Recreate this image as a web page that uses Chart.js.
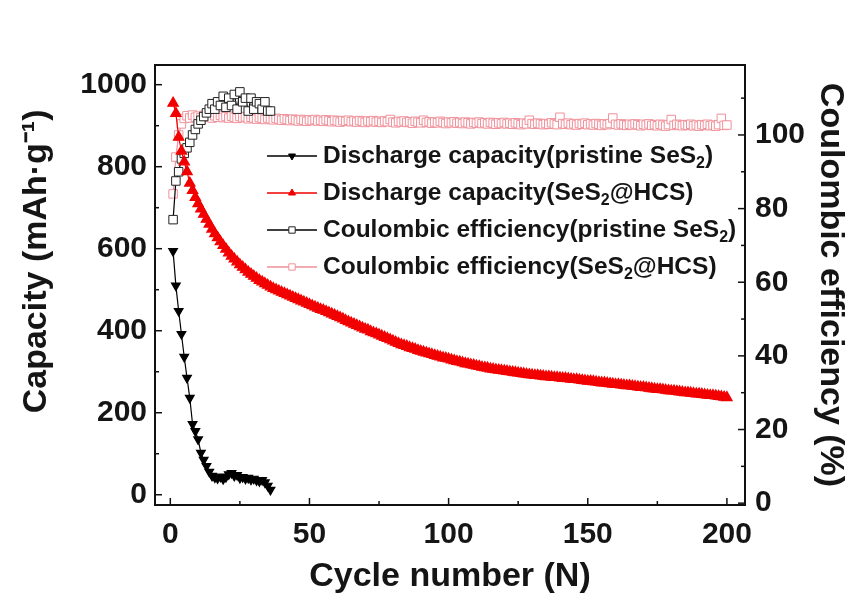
<!DOCTYPE html>
<html>
<head>
<meta charset="utf-8">
<script src="https://cdn.jsdelivr.net/npm/chart.js@4.4.1/dist/chart.umd.min.js"></script>
<style>
  html, body { margin: 0; padding: 0; background: #fff; }
  #wrap { width: 858px; height: 600px; position: relative; }
</style>
</head>
<body>
<div id="wrap"><canvas id="chart"></canvas></div>
<script>
// cycles 1..36 for the pristine cell, 1..200 for SeS2@HCS
const pristineCycles = [1,2,3,4,5,6,7,8,9,10,11,12,13,14,15,16,17,18,19,20,21,22,23,24,25,26,27,28,29,30,31,32,33,34,35,36];
const pristineCapacity = [594,510,448,392,336,285,236,172,155,135,102,85,70,56,46,42,40,44,38,43,50,53,46,48,41,43,39,41,37,39,35,33,36,30,22,12];
const pristineCE = [77,87.5,90,93.5,95,96.5,98,100,101.5,103,104,105,106,107,108.5,107,109,108,110.5,107.5,110,108,111,107,111.7,109,110,106.5,110,107,109,108.5,107,109,106.5,106.5];

const hcsCycles = Array.from({length: 200}, (_, i) => i + 1);
const hcsCapacity = [
  955,930,872,838,812,788,760,742,725,710,
  697,684,672,660,648,637,627,617,608,599,
  590,582,575,568,561,555,549,543,538,533,
  528,523,519,515,511,507,503,500,497,494,
  491,488,485,482,479,476,473,470,467,464,
  461,458,455,452,450,447,444,441,438,435,
  432,429,425,422,419,416,413,410,407,404,
  402,398,395,393,390,387,384,381,378,375,
  372,369,366,364,362,359,357,355,352,350,
  348,346,344,342,340,338,336,334,333,331,
  329,327,325,324,322,320,319,317,316,314,
  313,311,310,309,307,306,305,304,303,302,
  301,300,299,298,297,296,295,294,293,292,
  291,291,290,289,288,288,287,286,286,285,
  284,284,283,282,281,281,280,279,278,277,
  277,276,275,274,273,273,272,271,270,269,
  269,268,267,266,266,265,264,263,262,262,
  261,260,259,258,257,257,256,255,254,253,
  253,252,251,250,249,249,248,247,246,246,
  245,244,243,242,242,241,240,239,238,237
];
const hcsCE = [
  84,94,100,103,104.5,105.2,104.6,105.4,104.8,105.1,
  104.7,105.3,104.9,105.0,104.6,105.2,104.8,105.3,104.7,105.0,
  104.6,105.1,104.8,104.5,105.0,104.7,104.9,104.4,104.8,104.6,
  104.3,104.7,104.5,104.2,104.6,104.4,104.1,104.5,104.3,104.0,
  104.4,104.2,103.9,104.3,104.1,103.8,104.2,104.0,103.7,104.1,
  103.9,104.2,103.8,104.0,103.7,104.1,103.9,103.6,104.0,103.8,
  103.5,103.9,103.7,104.0,103.6,103.8,103.5,103.9,103.7,103.4,
  103.8,103.6,103.9,103.5,103.7,103.4,103.8,103.6,104.2,103.5,
  103.3,103.7,103.5,103.8,103.4,103.6,103.2,103.7,103.5,103.3,
  104.0,103.4,103.6,103.2,103.5,103.3,103.7,103.4,103.1,103.5,
  103.3,103.6,103.2,103.4,103.1,103.5,103.3,103.0,103.4,103.2,
  103.5,103.1,103.3,103.0,103.4,103.2,102.9,103.3,103.1,103.4,
  103.0,103.2,102.9,103.3,103.1,102.8,103.2,103.0,104.0,103.1,
  102.9,103.2,103.0,102.8,103.1,102.9,103.3,103.0,102.8,104.8,
  103.1,102.9,103.2,102.8,103.0,102.7,103.1,102.9,103.2,102.8,
  103.0,102.7,103.1,102.9,102.6,103.0,102.8,103.1,104.6,102.9,
  102.7,103.0,102.8,102.6,102.9,102.7,103.0,102.8,102.5,102.9,
  102.7,103.0,102.6,102.8,102.5,102.9,102.7,102.4,102.8,104.2,
  102.6,102.9,102.7,102.5,102.8,102.6,102.9,102.5,102.7,102.4,
  102.8,102.6,102.9,102.5,102.7,102.4,102.8,104.5,102.6,102.7
];

const xTicks = [0, 50, 100, 150, 200];
const xMinorTicks = [25, 75, 125, 175];
const leftTicks = [0, 200, 400, 600, 800, 1000];
const leftMinorTicks = [100, 300, 500, 700, 900];
const rightTicks = [0, 20, 40, 60, 80, 100];
const rightMinorTicks = [10, 30, 50, 70, 90, 110];

const legendLabels = [
  ['Discharge capacity(pristine SeS', '2', ')'],
  ['Discharge capacity(SeS', '2', '@HCS)'],
  ['Coulombic efficiency(pristine SeS', '2', ')'],
  ['Coulombic efficiency(SeS', '2', '@HCS)']
];

const red = '#f20000';
const pink = '#f0909a';
const fontFamily = '"Liberation Sans", Arial, sans-serif';

const toPoints = (xs, ys) => xs.map((x, i) => ({x: x, y: ys[i]}));

// frame + inward ticks like the original plot
const frameTicks = {
  id: 'frameTicks',
  afterDatasetsDraw(chart) {
    const {ctx, chartArea: a, scales} = chart;
    const line = (x1, y1, x2, y2) => { ctx.beginPath(); ctx.moveTo(x1, y1); ctx.lineTo(x2, y2); ctx.stroke(); };
    ctx.save();
    ctx.strokeStyle = '#111';
    ctx.lineWidth = 1.5;
    xTicks.forEach(v => { const x = scales.x.getPixelForValue(v); line(x, a.bottom, x, a.bottom - 7); });
    xMinorTicks.forEach(v => { const x = scales.x.getPixelForValue(v); line(x, a.bottom, x, a.bottom - 4); });
    leftTicks.forEach(v => { const y = scales.y.getPixelForValue(v); line(a.left, y, a.left + 7, y); });
    leftMinorTicks.forEach(v => { const y = scales.y.getPixelForValue(v); line(a.left, y, a.left + 4, y); });
    rightTicks.forEach(v => { const y = scales.y1.getPixelForValue(v); line(a.right, y, a.right - 7, y); });
    rightMinorTicks.forEach(v => { const y = scales.y1.getPixelForValue(v); line(a.right, y, a.right - 4, y); });
    ctx.lineWidth = 2;
    ctx.strokeRect(a.left, a.top, a.right - a.left, a.bottom - a.top);
    ctx.restore();
  }
};

// legend with subscripts (the built-in one can't do SeS2)
const subLegend = {
  id: 'subLegend',
  afterDraw(chart) {
    const {ctx, chartArea: a} = chart;
    const x0 = a.left + 112, x1 = a.left + 162, tx = a.left + 168;
    ctx.save();
    chart.data.datasets.forEach((ds, i) => {
      const y = a.top + 91 + i * 37;
      ctx.strokeStyle = ds.borderColor;
      ctx.lineWidth = 1.5;
      ctx.beginPath(); ctx.moveTo(x0, y); ctx.lineTo(x1, y); ctx.stroke();
      ctx.fillStyle = ds.pointBackgroundColor;
      ctx.strokeStyle = ds.pointBorderColor;
      ctx.lineWidth = 1;
      Chart.helpers.drawPoint(ctx, {
        pointStyle: ds.pointStyle,
        rotation: ds.pointRotation || 0,
        radius: ds.pointStyle === 'rect' ? 4.5 : 4,
        borderWidth: 1
      }, (x0 + x1) / 2, y);
      const parts = legendLabels[i];
      ctx.fillStyle = '#151515';
      ctx.textBaseline = 'middle';
      ctx.textAlign = 'left';
      ctx.font = 'bold 24.5px ' + fontFamily;
      let x = tx;
      ctx.fillText(parts[0], x, y);
      x += ctx.measureText(parts[0]).width;
      ctx.font = 'bold 16px ' + fontFamily;
      ctx.fillText(parts[1], x, y + 8);
      x += ctx.measureText(parts[1]).width;
      ctx.font = 'bold 24.5px ' + fontFamily;
      ctx.fillText(parts[2], x, y);
    });
    ctx.restore();
  }
};

const tickFont = {family: fontFamily, size: 30, weight: 'bold'};
const titleFont = {family: fontFamily, size: 34, weight: 'bold', lineHeight: 1.2};
const plainLabel = v => String(v);

new Chart(document.getElementById('chart'), {
  type: 'line',
  data: {
    datasets: [
      {
        label: 'Discharge capacity(pristine SeS2)',
        data: toPoints(pristineCycles, pristineCapacity),
        yAxisID: 'y',
        borderColor: '#000',
        borderWidth: 1.2,
        pointStyle: 'triangle',
        pointRotation: 180,
        pointRadius: 5,
        pointBackgroundColor: '#000',
        pointBorderColor: '#000',
        order: 1
      },
      {
        label: 'Discharge capacity(SeS2@HCS)',
        data: toPoints(hcsCycles, hcsCapacity),
        yAxisID: 'y',
        borderColor: red,
        borderWidth: 1.2,
        pointStyle: 'triangle',
        pointRadius: 6,
        pointBackgroundColor: red,
        pointBorderColor: red,
        order: 2
      },
      {
        label: 'Coulombic efficiency(pristine SeS2)',
        data: toPoints(pristineCycles, pristineCE),
        yAxisID: 'y1',
        borderColor: '#000',
        borderWidth: 1.2,
        pointStyle: 'rect',
        pointRadius: 6,
        pointBorderWidth: 1,
        pointBackgroundColor: '#fff',
        pointBorderColor: '#222',
        order: 3
      },
      {
        label: 'Coulombic efficiency(SeS2@HCS)',
        data: toPoints(hcsCycles, hcsCE),
        yAxisID: 'y1',
        borderColor: pink,
        borderWidth: 1.2,
        pointStyle: 'rect',
        pointRadius: 6,
        pointBorderWidth: 1,
        pointBackgroundColor: '#fff',
        pointBorderColor: pink,
        order: 4
      }
    ]
  },
  options: {
    responsive: true,
    maintainAspectRatio: false,
    animation: false,
    layout: {padding: {top: 65, left: 0, right: 0, bottom: 0}},
    plugins: {
      legend: {display: false},
      tooltip: {enabled: false}
    },
    scales: {
      x: {
        type: 'linear',
        min: -5.5,
        max: 206.5,
        grid: {display: false, drawTicks: false},
        border: {display: false},
        afterBuildTicks: s => { s.ticks = xTicks.map(v => ({value: v})); },
        afterFit: s => { s.height = 95; },
        ticks: {font: tickFont, color: '#151515', padding: 12, maxRotation: 0, callback: plainLabel},
        title: {display: true, text: 'Cycle number (N)', font: titleFont, color: '#151515', padding: {top: 0, bottom: 3}}
      },
      y: {
        position: 'left',
        min: -25,
        max: 1048,
        grid: {display: false, drawTicks: false},
        border: {display: false},
        afterBuildTicks: s => { s.ticks = leftTicks.map(v => ({value: v})); },
        afterFit: s => { s.width = 155; },
        ticks: {font: tickFont, color: '#151515', padding: 8, callback: plainLabel},
        title: {display: true, text: '     Capacity (mAh·g⁻¹)', font: titleFont, color: '#151515', padding: {top: 16, bottom: 0}}
      },
      y1: {
        position: 'right',
        min: -0.5,
        max: 119,
        grid: {display: false, drawTicks: false},
        border: {display: false},
        afterBuildTicks: s => { s.ticks = rightTicks.map(v => ({value: v})); },
        afterFit: s => { s.width = 113; },
        ticks: {font: tickFont, color: '#151515', padding: 10, callback: plainLabel},
        title: {display: true, text: 'Coulombic efficiency (%)', font: titleFont, color: '#151515', padding: {top: 7, bottom: 0}}
      }
    }
  },
  plugins: [frameTicks, subLegend]
});
</script>
</body>
</html>
